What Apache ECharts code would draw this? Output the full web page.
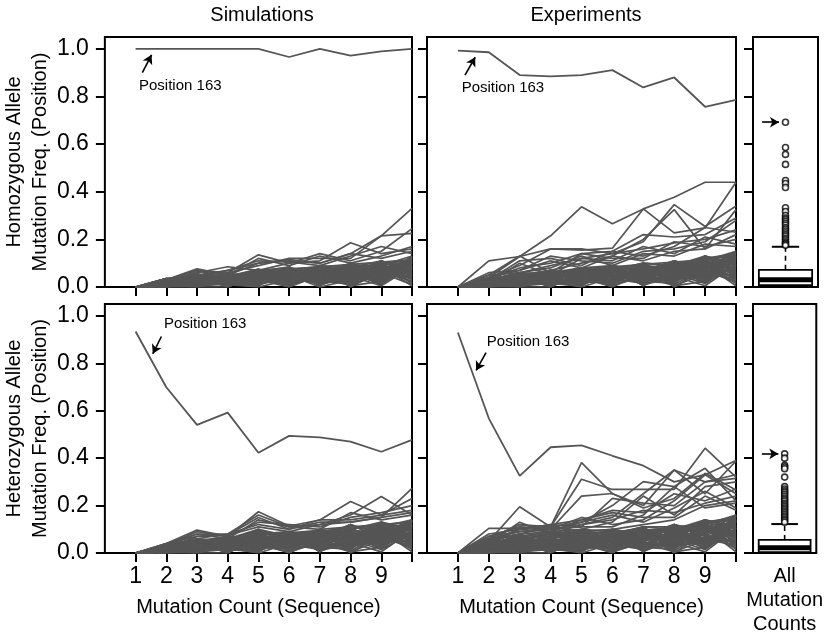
<!DOCTYPE html>
<html>
<head>
<meta charset="utf-8">
<script src="https://cdn.jsdelivr.net/npm/echarts@6/dist/echarts.min.js"></script>
<style>html,body{margin:0;padding:0;background:#fff}#c{width:825px;height:638px}</style>
</head>
<body>
<div id="c"></div>
<script>
const xCounts = [1,2,3,4,5,6,7,8,9,10];
const xTickLabels = [1,2,3,4,5,6,7,8,9];
const yTicks = [0,0.2,0.4,0.6,0.8,1.0];
const columnTitles = ['Simulations','Experiments'];
const rowTitles = ['Homozygous Allele\nMutation Freq. (Position)','Heterozygous Allele\nMutation Freq. (Position)'];
const xTitle = 'Mutation Count (Sequence)';
const boxLabel = 'All\nMutation\nCounts';

// Position 163 lines
const simHomPos163 = [1,1,1,1,1,.966,1,.972,.99,1];
const expHomPos163 = [.993,.986,.89,.885,.89,.911,.838,.88,.757,.786];
const simHetPos163 = [.934,.699,.54,.592,.423,.494,.488,.47,.427,.477];
const expHetPos163 = [.93,.568,.325,.446,.454,.41,.368,.30,.33,.39];

// Simulations, homozygous: other positions
const simHomLines = [
[0,.03,.05,.04,.07,.06,.08,.09,.07,.12],[0,.02,.03,.05,.04,.08,.06,.07,.10,.09],
[0,.01,.02,.03,.05,.04,.07,.05,.08,.11],[0,.03,.04,.02,.06,.07,.05,.08,.09,.06],
[0,.02,.05,.05,.03,.05,.09,.06,.05,.10],[0,.01,.01,.04,.02,.03,.04,.10,.06,.08],
[0,.00,.03,.01,.04,.02,.06,.04,.11,.05],[0,.02,.02,.03,.07,.08,.03,.07,.04,.13],
[0,.03,.04,.05,.05,.06,.08,.03,.09,.07],[0,.01,.03,.02,.01,.07,.02,.09,.03,.10],
[0,.02,.01,.04,.06,.01,.07,.02,.07,.04],[0,.03,.05,.03,.03,.04,.09,.08,.02,.12],
[0,.01,.02,.01,.02,.06,.01,.05,.10,.03],[0,.02,.04,.04,.07,.03,.05,.01,.06,.09],
[0,.00,.00,.02,.04,.05,.03,.06,.01,.11],[0,.03,.03,.05,.02,.08,.06,.04,.08,.02],
[0,.01,.04,.00,.05,.02,.04,.09,.05,.08],[0,.02,.02,.03,.01,.04,.02,.03,.09,.06],
[0,.03,.01,.05,.06,.07,.08,.07,.04,.10],[0,.01,.05,.02,.03,.00,.05,.08,.11,.05],
[0,.02,.03,.04,.07,.05,.01,.04,.06,.12],[0,.00,.01,.01,.00,.03,.07,.06,.03,.07],
[0,.03,.02,.04,.04,.06,.03,.02,.08,.09],[0,.01,.04,.03,.06,.01,.06,.10,.05,.04],
[0,.02,.05,.02,.02,.07,.04,.05,.10,.11],[0,.01,.00,.00,.05,.04,.02,.07,.02,.08],
[0,.02,.03,.05,.03,.02,.09,.00,.07,.06],[0,.03,.04,.01,.01,.08,.05,.09,.09,.13],
[0,.00,.02,.03,.04,.05,.00,.03,.06,.01],[0,.02,.05,.04,.07,.03,.07,.08,.04,.10],
[0,.01,.01,.02,.02,.06,.03,.01,.08,.09],[0,.03,.03,.05,.05,.02,.08,.06,.11,.07],
[0,.005,.015,.025,.035,.045,.055,.065,.075,.085],[0,.015,.035,.045,.065,.075,.085,.095,.105,.115],
[0,.025,.045,.015,.055,.025,.035,.045,.055,.065],[0,.005,.025,.035,.015,.065,.045,.085,.035,.125],
[0,.035,.005,.055,.025,.015,.075,.025,.095,.045],[0,.015,.055,.005,.045,.035,.015,.055,.015,.105],
[0,.025,.035,.035,.065,.055,.025,.075,.065,.025],[0,.005,.045,.045,.005,.075,.065,.015,.105,.095],
[0,.035,.015,.025,.075,.005,.085,.035,.045,.075],[0,.015,.025,.055,.045,.085,.005,.095,.085,.055],
[0,.025,.005,.015,.035,.045,.045,.005,.025,.115],[0,.005,.055,.025,.055,.065,.035,.065,.055,.035],
[0,.035,.035,.045,.025,.035,.065,.045,.095,.015],[0,.015,.045,.005,.065,.015,.075,.075,.015,.085],
[0,.025,.015,.035,.015,.055,.015,.085,.075,.105],[0,.005,.025,.055,.045,.025,.055,.055,.035,.125],
[0,.035,.045,.015,.005,.075,.085,.025,.065,.045],[0,.015,.005,.045,.075,.045,.025,.015,.105,.065],
[0,.025,.055,.025,.035,.005,.045,.095,.045,.095],[0,.005,.035,.005,.055,.065,.075,.035,.085,.005],
[0,.035,.025,.035,.065,.085,.005,.065,.025,.115],[0,.015,.015,.055,.025,.035,.065,.005,.055,.075],
[0,.025,.045,.045,.045,.015,.035,.075,.095,.035],[0,.005,.005,.025,.015,.055,.085,.045,.005,.085],
[0,.03,.076,.05,.10,.11,.10,.14,.215,.33],[0,.03,.06,.085,.07,.10,.11,.186,.14,.16],
[0,.02,.05,.06,.135,.10,.14,.11,.15,.245],[0,.03,.07,.06,.09,.12,.12,.12,.215,.225],
[0,.035,.05,.07,.11,.105,.09,.13,.17,.14],[0,.02,.065,.05,.12,.09,.13,.10,.13,.17],
[0,.03,.04,.07,.10,.115,.10,.14,.12,.15]
];

// Experiments, homozygous: other positions
const expHomLines = [
[0,.03,.06,.05,.08,.07,.10,.09,.12,.14],[0,.02,.04,.07,.05,.09,.06,.11,.08,.15],
[0,.01,.02,.03,.06,.04,.08,.05,.13,.10],[0,.035,.05,.02,.07,.08,.04,.10,.07,.12],
[0,.02,.03,.06,.03,.06,.09,.07,.11,.05],[0,.01,.01,.04,.02,.03,.05,.11,.06,.13],
[0,.00,.04,.01,.05,.02,.07,.04,.10,.08],[0,.03,.02,.05,.08,.09,.03,.08,.05,.15],
[0,.02,.05,.07,.04,.07,.10,.03,.12,.09],[0,.01,.03,.02,.01,.08,.02,.10,.04,.11],
[0,.02,.01,.05,.07,.01,.08,.02,.09,.06],[0,.03,.06,.03,.03,.05,.10,.09,.03,.14],
[0,.01,.02,.01,.02,.07,.01,.06,.13,.04],[0,.02,.05,.06,.08,.04,.06,.01,.08,.12],
[0,.00,.00,.03,.05,.06,.04,.07,.02,.13],[0,.035,.03,.07,.02,.09,.07,.05,.10,.03],
[0,.01,.04,.00,.06,.03,.05,.10,.06,.10],[0,.02,.02,.04,.01,.05,.03,.04,.11,.07],
[0,.03,.01,.06,.07,.08,.09,.08,.05,.12],[0,.01,.06,.02,.04,.00,.06,.09,.13,.06],
[0,.02,.03,.05,.08,.06,.02,.05,.07,.15],[0,.00,.01,.02,.00,.04,.08,.07,.04,.09],
[0,.03,.02,.04,.05,.07,.04,.03,.09,.11],[0,.01,.05,.03,.07,.02,.07,.11,.06,.05],
[0,.02,.06,.01,.03,.08,.05,.06,.12,.13],[0,.01,.00,.00,.06,.05,.03,.08,.03,.08],
[0,.02,.04,.07,.04,.03,.10,.00,.08,.07],[0,.03,.05,.02,.02,.09,.06,.10,.11,.15],
[0,.00,.02,.04,.05,.06,.01,.04,.07,.02],[0,.02,.06,.05,.08,.04,.08,.09,.05,.12],
[0,.01,.01,.03,.03,.07,.04,.02,.10,.10],[0,.03,.04,.06,.06,.03,.09,.07,.13,.09],
[0,.005,.015,.025,.035,.045,.055,.065,.085,.095],[0,.015,.035,.055,.065,.075,.095,.105,.115,.135],
[0,.025,.055,.015,.075,.025,.035,.045,.065,.075],[0,.005,.025,.035,.015,.085,.045,.095,.035,.145],
[0,.035,.005,.065,.025,.015,.085,.025,.115,.045],[0,.015,.045,.005,.045,.035,.015,.055,.015,.125],
[0,.025,.035,.045,.055,.065,.025,.085,.075,.025],[0,.005,.055,.045,.005,.075,.075,.015,.125,.105],
[0,.035,.015,.025,.075,.005,.095,.035,.045,.085],[0,.015,.025,.065,.045,.085,.005,.105,.095,.055],
[0,.025,.005,.015,.035,.055,.045,.005,.025,.135],[0,.005,.045,.025,.065,.065,.035,.075,.055,.035],
[0,.035,.035,.055,.025,.035,.065,.045,.105,.015],[0,.015,.055,.005,.065,.015,.085,.085,.015,.095],
[0,.025,.015,.035,.015,.055,.015,.095,.085,.115],[0,.005,.025,.065,.045,.025,.055,.055,.035,.145],
[0,.035,.045,.015,.005,.085,.095,.025,.065,.045],[0,.015,.005,.045,.075,.045,.025,.015,.115,.065],
[0,.025,.055,.025,.035,.005,.045,.105,.045,.105],[0,.005,.035,.005,.055,.065,.085,.035,.095,.005],
[0,.035,.025,.035,.075,.085,.005,.065,.025,.125],[0,.015,.015,.055,.025,.035,.065,.005,.055,.085],
[0,.025,.045,.045,.045,.015,.035,.075,.105,.035],[0,.005,.005,.025,.015,.055,.095,.045,.005,.095],
[0,.04,.128,.215,.337,.266,.328,.377,.44,.44],[0,.11,.128,.16,.155,.163,.328,.227,.248,.44],
[0,.03,.06,.09,.12,.14,.19,.346,.254,.34],[0,.02,.05,.07,.10,.13,.20,.325,.16,.325],
[0,.05,.13,.06,.14,.15,.22,.21,.22,.29],[0,.04,.09,.16,.16,.14,.16,.185,.20,.24],
[0,.03,.11,.12,.09,.15,.13,.17,.25,.23],[0,.06,.07,.13,.11,.10,.15,.16,.19,.28],
[0,.035,.08,.10,.14,.12,.12,.19,.17,.20],[0,.02,.10,.05,.12,.11,.17,.14,.21,.18],
[0,.04,.07,.11,.08,.13,.11,.15,.16,.22],[0,.05,.06,.08,.13,.09,.14,.13,.18,.17]
];

// Simulations, heterozygous: other positions
const simHetLines = [
[0,.03,.05,.06,.09,.08,.09,.11,.12,.13],[0,.02,.04,.07,.05,.09,.06,.12,.08,.14],
[0,.01,.02,.03,.07,.04,.08,.05,.13,.10],[0,.035,.06,.02,.10,.07,.04,.10,.07,.12],
[0,.02,.03,.05,.03,.06,.10,.07,.11,.05],[0,.01,.01,.04,.02,.03,.05,.12,.06,.13],
[0,.00,.04,.01,.06,.02,.07,.04,.10,.08],[0,.03,.02,.06,.08,.09,.03,.08,.05,.14],
[0,.02,.05,.07,.04,.07,.09,.03,.12,.09],[0,.01,.03,.02,.01,.08,.02,.09,.04,.11],
[0,.02,.01,.05,.09,.01,.08,.02,.09,.06],[0,.03,.06,.03,.03,.05,.10,.11,.03,.14],
[0,.01,.02,.01,.02,.07,.01,.06,.13,.04],[0,.02,.05,.06,.10,.04,.06,.01,.08,.12],
[0,.00,.00,.03,.05,.06,.04,.07,.02,.13],[0,.035,.03,.07,.02,.09,.07,.05,.10,.03],
[0,.01,.04,.00,.07,.03,.05,.10,.06,.10],[0,.02,.02,.04,.01,.05,.03,.04,.11,.07],
[0,.03,.01,.06,.08,.08,.09,.09,.05,.12],[0,.01,.06,.02,.04,.00,.06,.10,.13,.06],
[0,.02,.03,.05,.09,.06,.02,.05,.07,.14],[0,.00,.01,.02,.00,.04,.08,.07,.04,.09],
[0,.03,.02,.04,.06,.07,.04,.03,.09,.11],[0,.01,.05,.03,.07,.02,.07,.12,.06,.05],
[0,.02,.06,.01,.03,.08,.05,.06,.12,.13],[0,.01,.00,.00,.06,.05,.03,.08,.03,.08],
[0,.02,.04,.07,.05,.03,.10,.00,.08,.07],[0,.03,.05,.02,.02,.09,.06,.11,.11,.14],
[0,.00,.02,.04,.06,.06,.01,.04,.07,.02],[0,.02,.06,.05,.10,.04,.08,.09,.05,.12],
[0,.01,.01,.03,.03,.07,.04,.02,.10,.10],[0,.03,.04,.06,.08,.03,.09,.07,.13,.09],
[0,.005,.015,.025,.045,.045,.055,.065,.075,.085],[0,.015,.035,.055,.085,.075,.085,.105,.105,.125],
[0,.025,.055,.015,.065,.025,.035,.045,.055,.065],[0,.005,.025,.035,.015,.085,.045,.095,.035,.135],
[0,.035,.005,.065,.025,.015,.085,.025,.115,.045],[0,.015,.045,.005,.055,.035,.015,.055,.015,.115],
[0,.025,.035,.045,.075,.055,.025,.085,.075,.025],[0,.005,.055,.045,.005,.075,.075,.015,.125,.095],
[0,.035,.015,.025,.095,.005,.095,.035,.045,.075],[0,.015,.025,.065,.045,.085,.005,.115,.095,.055],
[0,.025,.005,.015,.035,.045,.045,.005,.025,.125],[0,.005,.045,.025,.065,.065,.035,.075,.055,.035],
[0,.035,.035,.055,.025,.035,.065,.045,.105,.015],[0,.015,.055,.005,.085,.015,.085,.085,.015,.085],
[0,.025,.015,.035,.015,.055,.015,.095,.085,.105],[0,.005,.025,.065,.055,.025,.055,.055,.035,.135],
[0,.035,.045,.015,.005,.085,.095,.025,.065,.045],[0,.015,.005,.045,.075,.045,.025,.015,.115,.065],
[0,.025,.055,.025,.035,.005,.045,.105,.045,.105],[0,.005,.035,.005,.095,.065,.075,.035,.095,.005],
[0,.035,.025,.035,.065,.085,.005,.065,.025,.115],[0,.015,.015,.055,.025,.035,.065,.005,.055,.075],
[0,.025,.045,.045,.045,.015,.035,.075,.105,.035],[0,.005,.005,.025,.015,.055,.095,.045,.005,.095],
[0,.04,.097,.07,.174,.114,.139,.217,.16,.23],[0,.03,.08,.08,.16,.11,.12,.16,.238,.16],
[0,.04,.07,.075,.15,.10,.13,.13,.15,.273],[0,.035,.09,.07,.13,.12,.11,.15,.17,.20],
[0,.03,.06,.08,.12,.10,.14,.14,.16,.18],[0,.04,.08,.06,.14,.11,.10,.17,.14,.16],
[0,.02,.07,.075,.11,.09,.12,.13,.15,.17]
];

// Experiments, heterozygous: other positions
const expHetLines = [
[0,.04,.07,.08,.09,.08,.11,.10,.13,.15],[0,.03,.05,.09,.06,.10,.07,.12,.09,.16],
[0,.01,.02,.04,.08,.05,.09,.06,.14,.11],[0,.05,.08,.02,.10,.09,.05,.11,.08,.13],
[0,.02,.04,.06,.03,.07,.10,.08,.12,.06],[0,.01,.01,.05,.02,.03,.06,.12,.07,.14],
[0,.00,.06,.01,.07,.02,.08,.04,.11,.09],[0,.04,.03,.07,.09,.10,.03,.09,.05,.16],
[0,.03,.07,.09,.05,.08,.11,.03,.13,.10],[0,.01,.03,.02,.01,.09,.02,.10,.04,.12],
[0,.02,.01,.06,.08,.01,.09,.02,.10,.07],[0,.05,.08,.03,.04,.06,.11,.11,.03,.15],
[0,.01,.02,.01,.02,.08,.01,.07,.14,.04],[0,.03,.06,.08,.10,.04,.07,.01,.09,.13],
[0,.00,.00,.03,.06,.07,.04,.08,.02,.14],[0,.04,.04,.09,.02,.10,.08,.05,.11,.03],
[0,.01,.05,.00,.07,.03,.05,.12,.06,.11],[0,.02,.02,.05,.01,.05,.03,.04,.12,.08],
[0,.05,.01,.07,.08,.09,.10,.09,.06,.13],[0,.01,.07,.02,.04,.00,.07,.10,.14,.07],
[0,.03,.03,.06,.09,.06,.02,.06,.08,.16],[0,.00,.01,.02,.00,.04,.09,.07,.04,.10],
[0,.04,.02,.04,.06,.08,.04,.03,.10,.12],[0,.01,.06,.03,.08,.02,.08,.12,.07,.05],
[0,.03,.08,.01,.03,.09,.06,.06,.13,.14],[0,.01,.00,.00,.06,.05,.03,.09,.03,.09],
[0,.02,.05,.08,.05,.03,.11,.00,.09,.08],[0,.05,.06,.02,.02,.10,.06,.11,.12,.16],
[0,.00,.02,.04,.07,.06,.01,.05,.08,.02],[0,.03,.07,.06,.10,.04,.09,.10,.05,.13],
[0,.01,.01,.03,.03,.07,.04,.02,.11,.11],[0,.04,.04,.07,.07,.03,.10,.08,.14,.10],
[0,.005,.015,.025,.035,.045,.055,.065,.085,.095],[0,.025,.045,.065,.075,.085,.095,.105,.125,.145],
[0,.035,.075,.015,.085,.025,.035,.045,.065,.075],[0,.005,.025,.045,.015,.095,.045,.115,.035,.155],
[0,.045,.005,.085,.025,.015,.105,.025,.125,.045],[0,.015,.065,.005,.055,.035,.015,.055,.015,.135],
[0,.025,.035,.055,.065,.065,.025,.085,.075,.025],[0,.005,.055,.035,.005,.075,.085,.015,.135,.115],
[0,.045,.015,.025,.095,.005,.095,.035,.045,.085],[0,.015,.025,.075,.045,.095,.005,.115,.105,.055],
[0,.035,.005,.015,.035,.055,.045,.005,.025,.145],[0,.005,.045,.025,.075,.065,.035,.075,.055,.035],
[0,.045,.035,.065,.025,.035,.065,.045,.115,.015],[0,.015,.075,.005,.065,.015,.085,.095,.015,.105],
[0,.025,.015,.035,.015,.055,.015,.105,.095,.125],[0,.005,.025,.085,.045,.025,.055,.055,.035,.155],
[0,.035,.055,.015,.005,.085,.105,.025,.065,.045],[0,.015,.005,.045,.085,.045,.025,.015,.125,.065],
[0,.025,.065,.025,.035,.005,.045,.115,.045,.115],[0,.005,.035,.005,.055,.075,.085,.035,.105,.005],
[0,.045,.025,.035,.075,.095,.005,.065,.025,.135],[0,.015,.015,.055,.025,.035,.075,.005,.055,.085],
[0,.025,.045,.045,.045,.015,.035,.085,.115,.035],[0,.005,.005,.025,.015,.055,.095,.045,.005,.105],
[0,.05,.195,.11,.09,.10,.12,.14,.20,.22],[0,.104,.104,.11,.381,.25,.20,.35,.30,.33],
[0,.06,.12,.11,.311,.268,.268,.268,.442,.32],[0,.07,.11,.10,.24,.251,.19,.23,.336,.266],
[0,.05,.10,.09,.13,.20,.301,.28,.357,.22],[0,.04,.13,.08,.12,.15,.25,.35,.25,.388],
[0,.06,.09,.10,.11,.23,.21,.20,.30,.315],[0,.08,.10,.12,.14,.18,.17,.25,.22,.27],
[0,.03,.11,.09,.10,.13,.24,.16,.28,.30],[0,.06,.12,.10,.15,.12,.14,.22,.33,.25],
[0,.05,.08,.11,.13,.16,.13,.19,.26,.19],[0,.07,.09,.10,.12,.14,.18,.17,.21,.24],
[0,.04,.10,.12,.11,.11,.16,.28,.19,.21],[0,.06,.08,.09,.14,.17,.15,.15,.24,.18]
];

// Boxplots of all mutation counts: [low, q1, median, q3, high whisker]
const homBox = [0, .008, .03, .072, .169];
const homOutliers = [.692,.586,.557,.515,.447,.435,.418,.333,.317,.30,.29,.283,.275,.268,.26,.25,.243,.235,.228,.22,.213,.205,.198,.19,.185,.18,.175];
const hetBox = [0, .004, .022, .055, .122];
const hetOutliers = [.418,.40,.37,.363,.355,.32,.28,.27,.262,.255,.248,.24,.232,.225,.218,.21,.203,.196,.19,.183,.176,.17,.163,.156,.15,.143,.137,.13];

// Annotation anchors (data coordinates)
const pos163Label = [[1.11,.845],[1.12,.838],[1.92,.965],[1.935,.89]];
const pos163Arrow = [[[1.22,.90],[1.52,.975]],[[1.23,.89],[1.56,.965]],[[1.84,.913],[1.56,.84]],[[1.91,.845],[1.59,.77]]];
const boxArrowX = [.14,.40];

const FONT = 'Liberation Sans, Arial, sans-serif';
const LINE = '#555555';

const chart = echarts.init(document.getElementById('c'), null, {renderer:'canvas'});

const grids = [
  {left:102, top:37, width:310, height:250},
  {left:427, top:37, width:309, height:250},
  {left:753, top:37, width:65, height:250},
  {left:102, top:304, width:310, height:249},
  {left:427, top:304, width:309, height:249},
  {left:753, top:304, width:65, height:249}
].map(g => Object.assign(g, {show:true, borderColor:'#000', borderWidth:2, backgroundColor:'transparent'}));

const xAxes = [], yAxes = [];
for (let i = 0; i < 6; i++) {
  const isBox = (i === 2 || i === 5);
  const isBottom = i >= 3;
  if (!isBox) {
    xAxes.push({
      type:'value', gridIndex:i, min:0, max:10, interval:1,
      axisLine:{show:false}, splitLine:{show:false},
      axisTick:{show:true, inside:false, length:9, lineStyle:{color:'#000', width:2}, customValues:xCounts},
      axisLabel:{show:isBottom, customValues:xTickLabels, fontSize:23, color:'#000', fontFamily:FONT, margin:12},
      name: isBottom ? xTitle : '', nameLocation:'middle', nameGap:44,
      nameTextStyle:{fontSize:20, color:'#000', fontFamily:FONT}
    });
  } else {
    xAxes.push({
      type:'value', gridIndex:i, min:0, max:1,
      axisLine:{show:false}, splitLine:{show:false}, axisTick:{show:false}, axisLabel:{show:false},
      name: isBottom ? boxLabel : '', nameLocation:'middle', nameGap:11,
      nameTextStyle:{fontSize:20, color:'#000', fontFamily:FONT, lineHeight:24}
    });
  }
  const showLab = (i === 0 || i === 3);
  yAxes.push({
    type:'value', gridIndex:i, min:0, max:1.05,
    axisLine:{show:false}, splitLine:{show:false},
    axisTick:{show:true, inside:false, length:9, lineStyle:{color:'#000', width:2}, customValues:yTicks},
    axisLabel:{show:showLab, customValues:yTicks, fontSize:23, color:'#000', fontFamily:FONT, margin:16,
      formatter: v => v.toFixed(1)},
    name: showLab ? rowTitles[i === 0 ? 0 : 1] : '', nameLocation:'middle', nameGap:49, nameRotate:90,
    nameTextStyle:{fontSize:20, color:'#000', fontFamily:FONT, lineHeight:26}
  });
}

const series = [];
function addPanel(gi, lines, pos, k) {
  lines.forEach(vals => {
    series.push({type:'line', xAxisIndex:gi, yAxisIndex:gi, silent:true, symbol:'none',
      lineStyle:{color:LINE, width:1.7}, data: xCounts.map((x, j) => [x, vals[j]])});
  });
  series.push({type:'line', xAxisIndex:gi, yAxisIndex:gi, silent:true, symbol:'none',
    lineStyle:{color:LINE, width:1.8}, data: xCounts.map((x, j) => [x, pos[j]]),
    markPoint:{silent:true, symbol:'circle', symbolSize:0.1, itemStyle:{color:'transparent'},
      label:{show:true, position:'right', distance:0, formatter:'Position 163', fontSize:15, color:'#000', fontFamily:FONT},
      data:[{coord:pos163Label[k]}]},
    markLine:{silent:true, symbol:['none','arrow'], symbolSize:[8,9], animation:false,
      lineStyle:{color:'#000', width:1.6, type:'solid'}, label:{show:false},
      data:[[{coord:pos163Arrow[k][0]},{coord:pos163Arrow[k][1]}]]}
  });
}
addPanel(0, simHomLines, simHomPos163, 0);
addPanel(1, expHomLines, expHomPos163, 1);
addPanel(3, simHetLines, simHetPos163, 2);
addPanel(4, expHetLines, expHetPos163, 3);

function boxRender(params, api) {
  const x = api.value(0);
  const lo = api.coord([x, api.value(1)]);
  const q1 = api.coord([x, api.value(2)]);
  const md = api.coord([x, api.value(3)]);
  const q3 = api.coord([x, api.value(4)]);
  const hi = api.coord([x, api.value(5)]);
  const band = api.size([1, 0])[0];
  const hw = band * 0.41, cw = band * 0.21;
  const cx = q1[0];
  return {type:'group', children:[
    {type:'line', shape:{x1:cx, y1:q3[1], x2:cx, y2:hi[1]}, style:{stroke:'#000', lineWidth:1.6, lineDash:[5,4]}},
    {type:'line', shape:{x1:cx, y1:q1[1], x2:cx, y2:lo[1]}, style:{stroke:'#000', lineWidth:1.6, lineDash:[5,4]}},
    {type:'line', shape:{x1:cx-cw, y1:hi[1], x2:cx+cw, y2:hi[1]}, style:{stroke:'#000', lineWidth:2}},
    {type:'rect', shape:{x:cx-hw, y:q3[1], width:2*hw, height:q1[1]-q3[1]}, style:{stroke:'#000', lineWidth:1.8, fill:'#fff'}},
    {type:'line', shape:{x1:cx-hw, y1:md[1], x2:cx+hw, y2:md[1]}, style:{stroke:'#000', lineWidth:5}}
  ]};
}
function addBox(gi, box, outl) {
  series.push({type:'custom', xAxisIndex:gi, yAxisIndex:gi, silent:true, renderItem:boxRender,
    data:[[0.5, box[0], box[1], box[2], box[3], box[4]]], clip:false});
  series.push({type:'scatter', xAxisIndex:gi, yAxisIndex:gi, silent:true, symbol:'circle', symbolSize:6,
    itemStyle:{color:'#fff', borderColor:'#000', borderWidth:1.6},
    data: outl.map(v => [0.5, v]),
    markLine:{silent:true, symbol:['none','arrow'], symbolSize:[8,9], animation:false,
      lineStyle:{color:'#000', width:1.6, type:'solid'}, label:{show:false},
      data:[[{coord:[boxArrowX[0], outl[0]]},{coord:[boxArrowX[1], outl[0]]}]]}
  });
}
addBox(2, homBox, homOutliers);
addBox(5, hetBox, hetOutliers);

chart.setOption({
  animation:false,
  backgroundColor:'#fff',
  title:[
    {text:columnTitles[0], left:257, top:0, textAlign:'center', textStyle:{fontSize:20, fontWeight:'normal', color:'#000', fontFamily:FONT}},
    {text:columnTitles[1], left:581, top:0, textAlign:'center', textStyle:{fontSize:20, fontWeight:'normal', color:'#000', fontFamily:FONT}}
  ],
  grid:grids, xAxis:xAxes, yAxis:yAxes, series:series
});
</script>
</body>
</html>
